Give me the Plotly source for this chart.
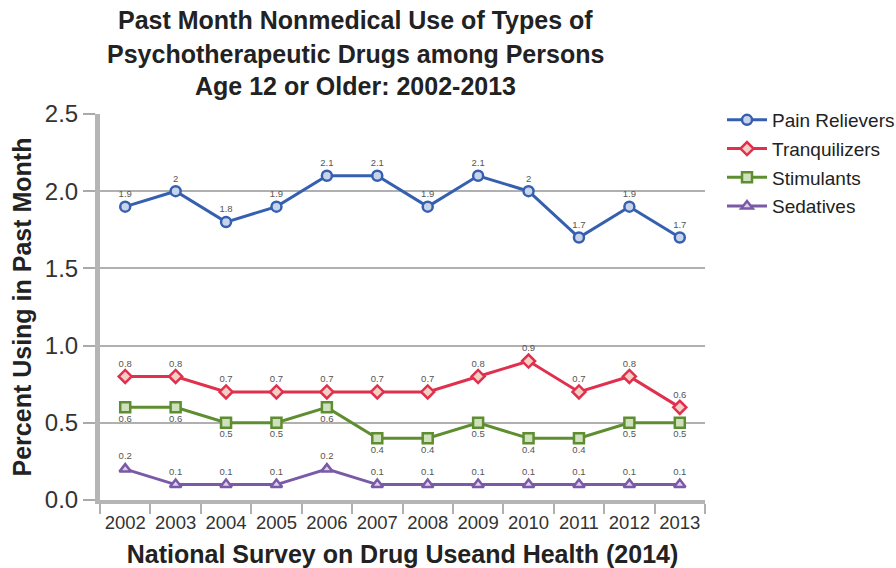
import plotly.graph_objects as go

years = ["2002", "2003", "2004", "2005", "2006", "2007", "2008", "2009", "2010", "2011", "2012", "2013"]
pain_relievers = [1.9, 2.0, 1.8, 1.9, 2.1, 2.1, 1.9, 2.1, 2.0, 1.7, 1.9, 1.7]
tranquilizers = [0.8, 0.8, 0.7, 0.7, 0.7, 0.7, 0.7, 0.8, 0.9, 0.7, 0.8, 0.6]
stimulants = [0.6, 0.6, 0.5, 0.5, 0.6, 0.4, 0.4, 0.5, 0.4, 0.4, 0.5, 0.5]
sedatives = [0.2, 0.1, 0.1, 0.1, 0.2, 0.1, 0.1, 0.1, 0.1, 0.1, 0.1, 0.1]

title_lines = ["Past Month Nonmedical Use of Types of",
               "Psychotherapeutic Drugs among Persons",
               "Age 12 or Older: 2002-2013"]

FONT = "Liberation Sans, Arial, sans-serif"

series = [
    ("Pain Relievers", pain_relievers, "#3560b0", "#c9d3ea", "circle", "top center"),
    ("Tranquilizers", tranquilizers, "#e0304e", "#f4cfc4", "diamond", "top center"),
    ("Stimulants", stimulants, "#5e8e30", "#cfe0bf", "square", "bottom center"),
    ("Sedatives", sedatives, "#7a5aa6", "#dcd2ea", "triangle-up", "top center"),
]

fig = go.Figure()
for name, vals, col, fill, sym, tpos in series:
    fig.add_trace(go.Scatter(
        x=years, y=vals, name=name, legendgroup=name,
        mode="lines+markers+text",
        text=[f"{v:g}" for v in vals],
        textposition=tpos,
        textfont=dict(size=9.5, color="#555555", family=FONT),
        line=dict(color=col, width=3),
        marker=dict(symbol=sym, size=10, color=fill, line=dict(color=col, width=2.5)),
        cliponaxis=False,
    ))

for i, line in enumerate(title_lines):
    fig.add_annotation(
        text=f"<b>{line}</b>", xref="paper", yref="paper",
        x=(355 - 100) / 605, y=1 + (114 - [20, 54, 86][i]) / 386,
        xanchor="center", yanchor="middle", showarrow=False,
        font=dict(size=25, color="#222222", family=FONT),
    )

fig.update_layout(
    width=896, height=568,
    margin=dict(l=100, r=191, t=114, b=68, autoexpand=False),
    paper_bgcolor="white", plot_bgcolor="white",
    font=dict(family=FONT, color="#333333"),
    showlegend=True,
    legend=dict(
        x=722 / 896, xref="container", y=1 - 101 / 568, yref="container",
        xanchor="left", yanchor="top",
        font=dict(size=19, color="#222222", family=FONT),
        tracegroupgap=1, bgcolor="rgba(0,0,0,0)",
        itemwidth=40,
    ),
    xaxis=dict(
        type="category", range=[-0.5, 11.5], automargin=False,
        tickson="boundaries", ticks="outside", ticklen=10, tickwidth=2, tickcolor="#b0b0b0",
        tickangle=0, ticklabelstandoff=3,
        showline=True, linewidth=4, linecolor="#b5b5b5",
        showgrid=False, zeroline=False,
        tickfont=dict(size=18.5, color="#333333", family=FONT),
        title=dict(text="<b>National Survey on Drug Useand Health (2014)</b>",
                   font=dict(size=25, color="#222222", family=FONT), standoff=15),
    ),
    yaxis=dict(
        range=[0, 2.5], tickvals=[0, 0.5, 1.0, 1.5, 2.0, 2.5], automargin=False,
        ticktext=["0.0", "0.5", "1.0", "1.5", "2.0", "2.5"],
        ticks="outside", ticklen=12, tickwidth=1.5, tickcolor="#aaaaaa",
        showline=True, linewidth=5, linecolor="#b5b5b5",
        showgrid=True, gridcolor="#b0b0b0", gridwidth=1.5, zeroline=False,
        tickfont=dict(size=24, color="#333333", family=FONT),
        title=dict(text="<b>Percent Using in Past Month</b>",
                   font=dict(size=25, color="#222222", family=FONT), standoff=8),
    ),
)

fig.write_html("out.html")
